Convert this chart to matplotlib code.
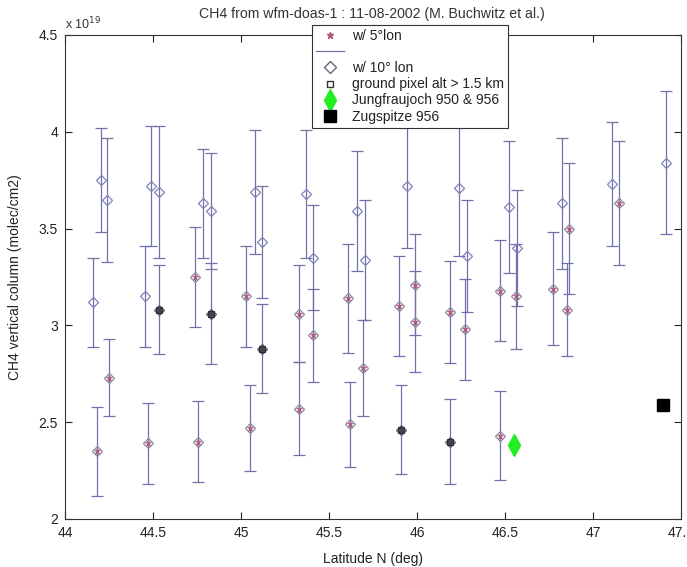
import matplotlib
matplotlib.use("Agg")
import matplotlib.pyplot as plt
from matplotlib.lines import Line2D
from matplotlib.ticker import FuncFormatter, FixedLocator

plt.rcParams['font.family'] = ['Liberation Sans', 'DejaVu Sans']

# ---- data (CH4 vertical column in units of 1e19 molec/cm2) ----
# w/ 10 deg lon (open diamonds)
lat_10 = [44.157, 44.203, 44.237, 44.455, 44.489, 44.536, 44.782, 44.830,
          45.080, 45.121, 45.369, 45.411, 45.661, 45.705, 45.945, 46.239,
          46.282, 46.524, 46.570, 46.822, 47.110, 47.413]
val_10 = [3.12, 3.75, 3.65, 3.15, 3.72, 3.69, 3.63, 3.59,
          3.69, 3.43, 3.68, 3.35, 3.59, 3.34, 3.72, 3.71,
          3.36, 3.61, 3.40, 3.63, 3.73, 3.84]
err_10 = [0.23, 0.27, 0.32, 0.26, 0.31, 0.34, 0.28, 0.30,
          0.32, 0.29, 0.33, 0.27, 0.31, 0.31, 0.32, 0.35,
          0.29, 0.34, 0.30, 0.34, 0.32, 0.37]

# w/ 5 deg lon (stars)
lat_5 = [44.180, 44.250, 44.470, 44.739, 44.757, 45.028, 45.051, 45.330,
         45.330, 45.411, 45.610, 45.619, 45.691, 45.896, 45.989, 45.989,
         46.188, 46.273, 46.472, 46.472, 46.562, 46.774, 46.851, 46.864,
         47.149]
val_5 = [2.35, 2.73, 2.39, 3.25, 2.40, 3.15, 2.47, 3.06,
         2.57, 2.95, 3.14, 2.49, 2.78, 3.10, 3.21, 3.02,
         3.07, 2.98, 3.18, 2.43, 3.15, 3.19, 3.08, 3.50,
         3.63]
err_5 = [0.23, 0.20, 0.21, 0.26, 0.21, 0.26, 0.22, 0.25,
         0.24, 0.24, 0.28, 0.22, 0.25, 0.26, 0.26, 0.26,
         0.265, 0.26, 0.26, 0.23, 0.27, 0.29, 0.24, 0.34,
         0.32]

# ground pixel alt > 1.5 km
lat_gp = [44.536, 44.830, 45.121, 45.907, 46.187]
val_gp = [3.08, 3.06, 2.88, 2.46, 2.40]
err_gp = [0.23, 0.26, 0.23, 0.23, 0.22]

# stations
lat_jf = [46.553]
val_jf = [2.38]
lat_zs = [47.40]
val_zs = [2.59]

xticks = [44, 44.5, 45, 45.5, 46, 46.5, 47, 47.5]
yticks = [2, 2.5, 3, 3.5, 4, 4.5]

# ---- styles ----
line_c = '#7070aa'
dia_c = '#8080b8'
star_c = '#b05878'

fig = plt.figure(figsize=(6.87, 5.67), dpi=100)
ax = fig.add_axes([65/687, 1-519/567, (681-65)/687, (519-35)/567])

eb_kw = dict(fmt='none', ecolor=line_c, elinewidth=0.9, capsize=4, capthick=0.9)

ax.errorbar(lat_10, val_10, yerr=err_10, **eb_kw)
ax.errorbar(lat_5, val_5, yerr=err_5, **eb_kw)
ax.errorbar(lat_gp, val_gp, yerr=err_gp, **eb_kw)

ax.plot(lat_10, val_10, linestyle='none', marker='D', markersize=5.5,
        markerfacecolor='none', markeredgecolor=dia_c, markeredgewidth=0.9)
ax.plot(lat_5, val_5, linestyle='none', marker='D', markersize=5.5,
        markerfacecolor='none', markeredgecolor='#8a8aa8', markeredgewidth=0.9)
ax.plot(lat_5, val_5, linestyle='none', marker='*', markersize=5,
        color=star_c, markeredgewidth=0.5)
ax.plot(lat_gp, val_gp, linestyle='none', marker='D', markersize=5.5,
        markerfacecolor='none', markeredgecolor='#555570', markeredgewidth=0.9)
ax.plot(lat_gp, val_gp, linestyle='none', marker='s', markersize=4.5,
        markerfacecolor='#44444f', markeredgecolor='#222222', markeredgewidth=0.6)

ax.plot(lat_jf, val_jf, linestyle='none', marker='d', markersize=11,
        color='#22ee22')
ax.plot(lat_zs, val_zs, linestyle='none', marker='s', markersize=8,
        color='black')

ax.set_xlim(44, 47.5)
ax.set_ylim(2, 4.5)
ax.xaxis.set_major_locator(FixedLocator(xticks))
ax.yaxis.set_major_locator(FixedLocator(yticks))
fmt = FuncFormatter(lambda v, p: '%g' % v)
ax.xaxis.set_major_formatter(fmt)
ax.yaxis.set_major_formatter(fmt)
ax.tick_params(direction='in', top=True, right=True, length=5, width=0.8,
               labelsize=10, colors='#222222', pad=5)
for s in ax.spines.values():
    s.set_linewidth(0.8)
    s.set_color('#333333')

ax.text(0.0, 1.005, 'x 10$^{19}$', transform=ax.transAxes, fontsize=9,
        ha='left', va='bottom', color='#333333')

fig.text(372/687, 1-14/567, 'CH4 from wfm-doas-1 : 11-08-2002 (M. Buchwitz et al.)',
         ha='center', va='center', fontsize=10.2, color='#333333')
ax.set_xlabel('Latitude N (deg)', fontsize=10, color='#222222', labelpad=9)
ax.set_ylabel('CH4 vertical column (molec/cm2)', fontsize=10, color='#222222', labelpad=12)

handles = [
    Line2D([], [], linestyle='none', marker='*', markersize=5, color=star_c),
    Line2D([], [], color=line_c, linewidth=0.9),
    Line2D([], [], linestyle='none', marker='D', markersize=6,
           markerfacecolor='none', markeredgecolor='#666677'),
    Line2D([], [], linestyle='none', marker='s', markersize=4,
           markerfacecolor='none', markeredgecolor='#333333'),
    Line2D([], [], linestyle='none', marker='d', markersize=11, color='#22ee22'),
    Line2D([], [], linestyle='none', marker='s', markersize=8, color='black'),
]
labels = ['w/ 5°lon', ' ', 'w/ 10° lon', 'ground pixel alt > 1.5 km',
          'Jungfraujoch 950 & 956', 'Zugspitze 956']
leg = fig.legend(handles, labels, loc='upper left',
                 bbox_to_anchor=(312/687, 1-25/567), fontsize=10,
                 frameon=True, fancybox=False, edgecolor='#333333',
                 framealpha=1, handlelength=2.0, handletextpad=0.6,
                 labelspacing=0.15, borderpad=0.3, borderaxespad=0)
leg.get_frame().set_linewidth(0.8)
for t in leg.get_texts():
    t.set_color('#222222')

fig.savefig('out.png', dpi=100)
